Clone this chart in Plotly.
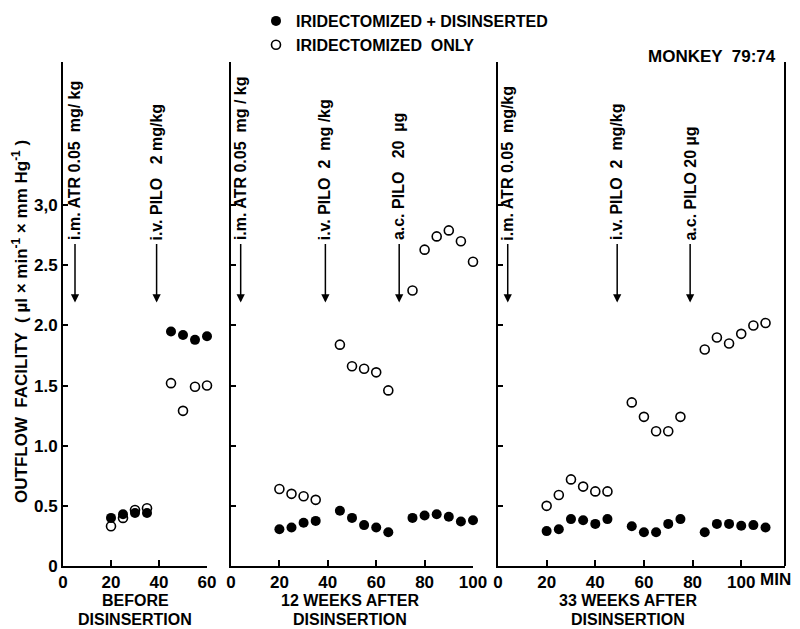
import plotly.graph_objects as go

# ---------------- data ----------------
# Panel 1: before disinsertion
p1_x_filled = [20, 25, 30, 35, 45, 50, 55, 60]
p1_y_filled = [0.40, 0.43, 0.44, 0.44, 1.95, 1.92, 1.88, 1.91]
p1_x_open = [20, 25, 30, 35, 45, 50, 55, 60]
p1_y_open = [0.33, 0.40, 0.465, 0.48, 1.52, 1.29, 1.49, 1.50]

# Panel 2: 12 weeks after disinsertion
p2_x_filled = [20, 25, 30, 35, 45, 50, 55, 60, 65, 75, 80, 85, 90, 95, 100]
p2_y_filled = [0.305, 0.32, 0.36, 0.375, 0.46, 0.40, 0.34, 0.32, 0.28,
               0.40, 0.42, 0.43, 0.41, 0.37, 0.38]
p2_x_open = [20, 25, 30, 35, 45, 50, 55, 60, 65, 75, 80, 85, 90, 95, 100]
p2_y_open = [0.64, 0.60, 0.58, 0.55, 1.84, 1.66, 1.64, 1.61, 1.46,
             2.29, 2.63, 2.74, 2.79, 2.70, 2.53]

# Panel 3: 33 weeks after disinsertion
p3_x_filled = [20, 25, 30, 35, 40, 45, 55, 60, 65, 70, 75, 85, 90, 95, 100, 105, 110]
p3_y_filled = [0.29, 0.305, 0.39, 0.38, 0.35, 0.39, 0.33, 0.28, 0.28, 0.35, 0.39,
               0.28, 0.35, 0.35, 0.335, 0.34, 0.32]
p3_x_open = [20, 25, 30, 35, 40, 45, 55, 60, 65, 70, 75, 85, 90, 95, 100, 105, 110]
p3_y_open = [0.50, 0.59, 0.72, 0.66, 0.62, 0.62, 1.36, 1.24, 1.12, 1.12, 1.24,
             1.80, 1.90, 1.85, 1.93, 2.00, 2.02]

# drug administration arrows (minute, label) per panel
p1_arrows = [(5, "i.m. ATR 0.05  mg/ kg"), (39, "i.v. PILO   2 mg/kg")]
p2_arrows = [(4, "i.m. ATR 0.05  mg / kg"), (39, "i.v. PILO  2  mg /kg"), (69.5, "a.c. PILO   20  µg")]
p3_arrows = [(4, "i.m. ATR 0.05  mg/kg"), (49, "i.v. PILO  2  mg/kg"), (79, "a.c. PILO 20 µg")]

y_tickvals = [0, 0.5, 1.0, 1.5, 2.0, 2.5, 3.0]
y_ticktext = ["0", "0.5", "1.0", "1.5", "2.0", "2.5", "3,0"]

p1_xticks = [0, 20, 40, 60]
p2_xticks = [0, 20, 40, 60, 80, 100]
p3_xticks = [0, 20, 40, 60, 80, 100]

panel_labels = [("BEFORE", "DISINSERTION"), ("12 WEEKS AFTER", "DISINSERTION"),
                ("33 WEEKS AFTER", "DISINSERTION")]

# ---------------- style ----------------
FONT = "Liberation Sans, Arial, sans-serif"
OFF = 8                      # page body margin in the browser
W, H = 800 - OFF, 629 - OFF  # figure size so it fits in the window


def px(v):
    """screen x pixel -> paper x"""
    return (v - OFF) / W


def py(v):
    """screen y pixel -> paper y"""
    return (H - (v - OFF)) / H


Y_BOT, Y_TOP = py(566), py(62)
doms = [(px(63), px(207)), (px(231), px(473)), (px(498), px(785))]
xranges = [[0, 60], [0, 100], [0, 118]]
YMAX = 4.19

fig = go.Figure()

panels = [
    (p1_x_filled, p1_y_filled, p1_x_open, p1_y_open),
    (p2_x_filled, p2_y_filled, p2_x_open, p2_y_open),
    (p3_x_filled, p3_y_filled, p3_x_open, p3_y_open),
]
for i, (xf, yf, xo, yo) in enumerate(panels):
    sfx = "" if i == 0 else str(i + 1)
    fig.add_trace(go.Scatter(
        x=xf, y=yf, mode="markers", xaxis="x" + sfx, yaxis="y" + sfx,
        name="IRIDECTOMIZED + DISINSERTED", showlegend=(i == 0), cliponaxis=False,
        marker=dict(symbol="circle", size=10, color="black"),
    ))
    fig.add_trace(go.Scatter(
        x=xo, y=yo, mode="markers", xaxis="x" + sfx, yaxis="y" + sfx,
        name="IRIDECTOMIZED  ONLY", showlegend=(i == 0), cliponaxis=False,
        marker=dict(symbol="circle-open", size=9, color="black", line=dict(width=1.6)),
    ))

layout = dict(
    width=W, height=H, margin=dict(l=0, r=0, t=0, b=0, autoexpand=False),
    paper_bgcolor="white", plot_bgcolor="white",
    font=dict(family=FONT, size=17, color="black", weight="bold"),
    legend=dict(x=px(256), y=py(4), xanchor="left", yanchor="top",
                font=dict(size=16, weight="bold"), bgcolor="rgba(0,0,0,0)",
                tracegroupgap=0),
)
xticks_all = [p1_xticks, p2_xticks, p3_xticks]
for i in range(3):
    sfx = "" if i == 0 else str(i + 1)
    layout["xaxis" + sfx] = dict(
        domain=list(doms[i]), range=xranges[i], anchor="y" + sfx, automargin=False,
        showgrid=False, zeroline=False, showline=True, linecolor="black", linewidth=2,
        ticks="inside", ticklen=6, tickwidth=1.5, tickcolor="black",
        tickvals=xticks_all[i], ticktext=[str(v) for v in xticks_all[i]],
        tickfont=dict(size=17, weight="bold"),
    )
    layout["yaxis" + sfx] = dict(
        domain=[Y_BOT, Y_TOP], range=[0, YMAX], anchor="x" + sfx, automargin=False,
        showgrid=False, zeroline=False, showline=True, linecolor="black", linewidth=2,
        ticks="inside", ticklen=5, tickwidth=1.5, tickcolor="black",
        tickvals=y_tickvals, ticktext=y_ticktext,
        showticklabels=(i == 0), tickfont=dict(size=17, weight="bold"),
    )
fig.update_layout(**layout)

annotations = []
for i, arr in enumerate([p1_arrows, p2_arrows, p3_arrows]):
    sfx = "" if i == 0 else str(i + 1)
    for xm, label in arr:
        annotations.append(dict(
            x=xm, y=2.19, ax=xm, ay=2.69, xref="x" + sfx, yref="y" + sfx,
            axref="x" + sfx, ayref="y" + sfx, text="", showarrow=True,
            arrowhead=2, arrowsize=1.1, arrowwidth=1.5, arrowcolor="black",
        ))
        annotations.append(dict(
            x=xm, y=2.69, xref="x" + sfx, yref="y" + sfx, text=label,
            textangle=-90, showarrow=False, xanchor="center", yanchor="bottom",
            font=dict(size=16, weight="bold"),
        ))

# panel captions (two separate lines)
centers = [135, 350, 628]
for c, (l1, l2) in zip(centers, panel_labels):
    annotations.append(dict(
        x=px(c), y=py(600), xref="paper", yref="paper", text=l1,
        showarrow=False, xanchor="center", yanchor="middle", borderpad=0,
        font=dict(size=16, weight="bold"),
    ))
    annotations.append(dict(
        x=px(c), y=py(619), xref="paper", yref="paper", text=l2,
        showarrow=False, xanchor="center", yanchor="middle", borderpad=0,
        font=dict(size=16, weight="bold"),
    ))
annotations.append(dict(x=px(758), y=py(579), xref="paper", yref="paper",
                        text="MIN", showarrow=False, xanchor="left", yanchor="middle",
                        font=dict(size=17, weight="bold")))
annotations.append(dict(x=px(778), y=py(56), xref="paper", yref="paper",
                        text="MONKEY  79:74", showarrow=False, xanchor="right",
                        yanchor="middle", font=dict(size=17, weight="bold")))
annotations.append(dict(x=px(20), y=py(322), xref="paper", yref="paper",
                        text="OUTFLOW  FACILITY  ( µl × min<sup>-1</sup> × mm Hg<sup>-1</sup> )",
                        textangle=-90, showarrow=False, xanchor="center", yanchor="middle",
                        font=dict(size=17, weight="bold")))
fig.update_layout(annotations=annotations)

# right border of the third panel
fig.add_shape(type="line", xref="x3 domain", yref="y3 domain", x0=1, x1=1, y0=0, y1=1,
              line=dict(color="black", width=2))

fig.write_html("out.html")
